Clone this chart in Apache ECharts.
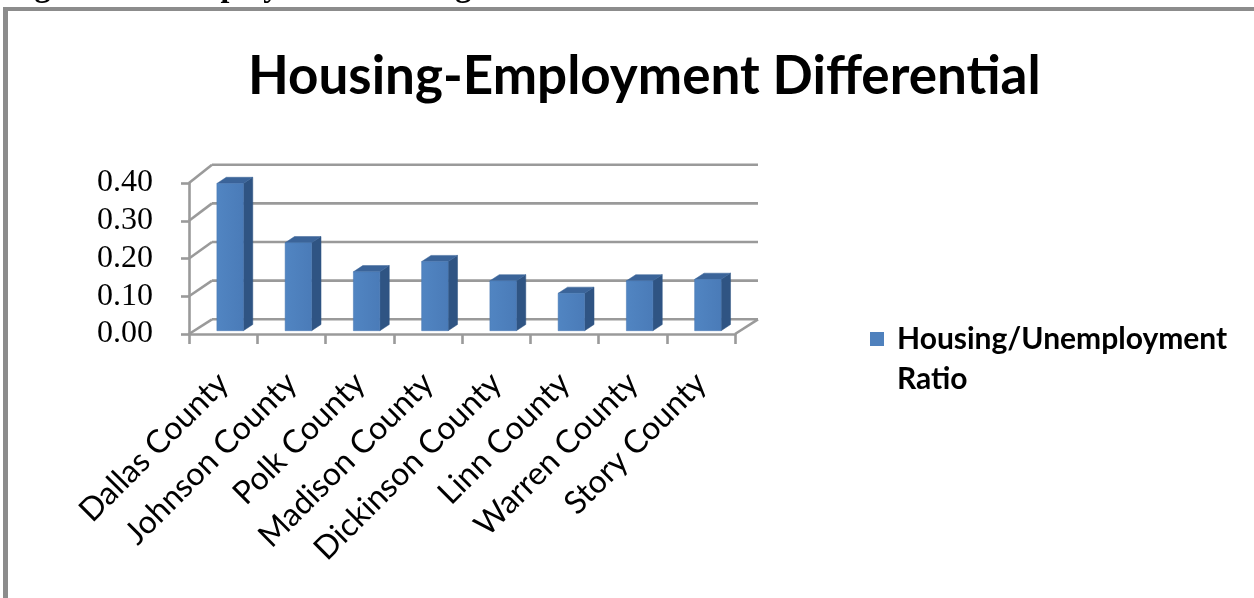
<!DOCTYPE html>
<html>
<head>
<meta charset="utf-8">
<script src="https://cdn.jsdelivr.net/npm/echarts@6/dist/echarts.min.js"></script>
<style>
html,body{margin:0;padding:0;background:#fff;}
#chart{width:1254px;height:598px;}
</style>
</head>
<body>
<div id="chart"></div>
<script>
// ---- data ----
const categories = ['Dallas County', 'Johnson County', 'Polk County', 'Madison County',
  'Dickinson County', 'Linn County', 'Warren County', 'Story County'];
const ratioValues = [0.39, 0.233, 0.156, 0.183, 0.132, 0.099, 0.132, 0.136];
const yTicks = [0, 0.1, 0.2, 0.3, 0.4];
const seriesName = 'Housing/Unemployment Ratio';
const titleText = 'Housing-Employment Differential';
const captionText = 'Figure 4: Unemployment/Housing Growth';

// ---- style ----
const Y_MAX = 0.4;
const GRID_COLOR = '#9a9a9a';
const GRID_W = 2.6;
const WALL_DX = 23, WALL_DY0 = -14.7, WALL_DY1 = -18.3;
const BAR_SHIFT_X = 7, BAR_SHIFT_Y = -3.3;
const BAR_DX = 9.4, BAR_DY = -6.2;
const BAR_W = 26.5;

const chart = echarts.init(document.getElementById('chart'), null, {renderer: 'canvas'});

function renderWall(params, api) {
  const cs = params.coordSys;
  const L = cs.x, R = cs.x + cs.width;
  const children = [];
  const ls = {stroke: GRID_COLOR, lineWidth: GRID_W, fill: null};
  yTicks.forEach(function (v) {
    const yf = api.coord([0, v])[1];
    const k = v / Y_MAX;
    const dy = WALL_DY0 + (WALL_DY1 - WALL_DY0) * k;
    children.push({type: 'line', shape: {x1: L, y1: yf, x2: L + WALL_DX, y2: yf + dy}, style: ls});
    children.push({type: 'line', shape: {x1: L + WALL_DX, y1: yf + dy, x2: R + WALL_DX, y2: yf + dy}, style: ls});
  });
  const y0 = api.coord([0, 0])[1];
  children.push({type: 'line', shape: {x1: R, y1: y0, x2: R + WALL_DX, y2: y0 + WALL_DY0}, style: ls});
  return {type: 'group', children: children, silent: true};
}

function renderBar(params, api) {
  const idx = api.value(0);
  const val = api.value(1);
  const base = api.coord([idx, 0]);
  const top = api.coord([idx, val]);
  const cx = base[0] + BAR_SHIFT_X;
  const xl = cx - BAR_W / 2, xr = cx + BAR_W / 2;
  const yb = base[1] + BAR_SHIFT_Y;
  const yt = top[1] + BAR_SHIFT_Y;
  return {
    type: 'group',
    children: [
      {type: 'polygon', shape: {points: [[xr, yb], [xr + BAR_DX, yb + BAR_DY], [xr + BAR_DX, yt + BAR_DY], [xr, yt]]},
        style: {fill: '#2f5483', stroke: '#2f5483', lineWidth: 0.5}},
      {type: 'polygon', shape: {points: [[xl, yt], [xr, yt], [xr + BAR_DX, yt + BAR_DY], [xl + BAR_DX, yt + BAR_DY]]},
        style: {fill: '#3b6499', stroke: '#3b6499', lineWidth: 0.5}},
      {type: 'rect', shape: {x: xl, y: yt, width: BAR_W, height: yb - yt},
        style: {fill: new echarts.graphic.LinearGradient(0, 0, 1, 0, [
          {offset: 0, color: '#5185c2'}, {offset: 1, color: '#4a7bb8'}]), stroke: '#4677b3', lineWidth: 0.5}}
    ]
  };
}

const option = {
  backgroundColor: '#ffffff',
  animation: false,
  title: {
    text: titleText,
    left: 243,
    top: 45,
    textStyle: {fontFamily: 'Lato', fontWeight: 'bold', fontSize: 53, color: '#000'}
  },
  legend: {
    left: 870,
    top: 319,
    padding: 0,
    icon: 'path://M0,0L14,0L14,14L0,14Z M21.9,53.9L22,53.9L22,54L21.9,54Z',
    itemWidth: 22,
    itemHeight: 54,
    data: [{name: seriesName, itemStyle: {color: '#4f81bd'}}],
    formatter: function (n) { return n.replace(' Ratio', '\nRatio'); },
    textStyle: {fontFamily: 'Lato', fontWeight: 'bold', fontSize: 30, color: '#000', lineHeight: 40}
  },
  graphic: [
    {type: 'text', style: {x: 6, y: -12, text: captionText, font: 'bold 32px "Liberation Serif"', fill: '#000', verticalAlign: 'middle'}, z: 9},
    {type: 'rect', shape: {x: 3, y: 7, width: 1260, height: 4}, style: {fill: '#8c8c8c'}, z: 10},
    {type: 'rect', shape: {x: 3, y: 7, width: 5, height: 600}, style: {fill: '#8c8c8c'}, z: 10}
  ],
  grid: {left: 189, top: 183, width: 546, height: 151, containLabel: false},
  xAxis: {
    type: 'category',
    data: categories,
    boundaryGap: true,
    axisLine: {show: true, lineStyle: {color: GRID_COLOR, width: GRID_W}},
    axisTick: {show: true, length: 10, lineStyle: {color: GRID_COLOR, width: GRID_W}},
    axisLabel: {rotate: 45, margin: 44, fontFamily: 'Lato', fontSize: 32, color: '#000', interval: 0}
  },
  yAxis: {
    type: 'value',
    min: 0,
    max: Y_MAX,
    interval: 0.1,
    axisLine: {show: true, lineStyle: {color: GRID_COLOR, width: GRID_W}},
    axisTick: {show: true, length: 8, lineStyle: {color: GRID_COLOR, width: GRID_W}},
    splitLine: {show: false},
    axisLabel: {margin: 36, fontFamily: 'Liberation Serif', fontSize: 32, color: '#000',
      formatter: function (v) { return v.toFixed(2); }}
  },
  series: [
    {type: 'custom', name: 'wall', renderItem: renderWall, data: [[0, 0]], silent: true, z: 1, tooltip: {show: false}},
    {type: 'custom', name: seriesName, renderItem: renderBar, z: 2,
      itemStyle: {color: '#4f81bd'},
      encode: {x: 0, y: 1},
      data: ratioValues.map(function (v, i) { return [i, v]; })}
  ]
};
chart.setOption(option);
</script>
</body>
</html>
